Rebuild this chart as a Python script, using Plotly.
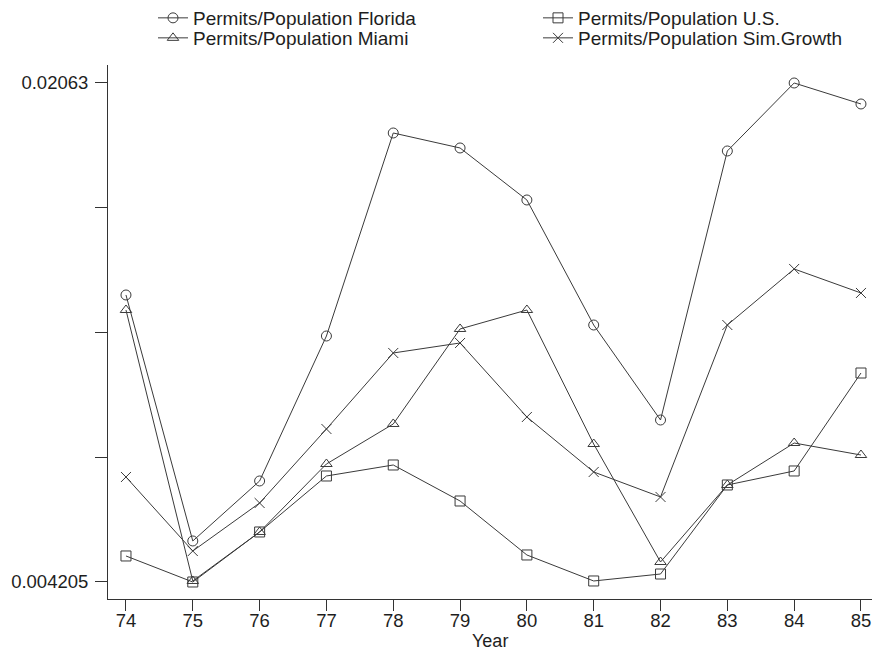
import plotly.graph_objects as go

years = [74, 75, 76, 77, 78, 79, 80, 81, 82, 83, 84, 85]
year_labels = [str(y) for y in years]

florida = [0.013652, 0.005555, 0.007530, 0.012302, 0.018984, 0.018491,
           0.016779, 0.012664, 0.009537, 0.018392, 0.020630, 0.019939]
miami = [0.013158, 0.004238, 0.005851, 0.008089, 0.009406, 0.012533,
         0.013158, 0.008747, 0.004863, 0.007398, 0.008780, 0.008385]
us = [0.005061, 0.004205, 0.005851, 0.007694, 0.008056, 0.006871,
      0.005094, 0.004238, 0.004468, 0.007398, 0.007859, 0.011084]
sim_growth = [0.007661, 0.005225, 0.006805, 0.009241, 0.011743, 0.012072,
              0.009636, 0.007826, 0.007003, 0.012664, 0.014508, 0.013718]

y_min, y_max = 0.004205, 0.02063
y_tickvals = [y_min + i * (y_max - y_min) / 4 for i in range(5)]
y_ticktext = ["0.004205", "", "", "", "0.02063"]

series = [
    ("Permits/Population Florida", florida, "circle-open", "legend"),
    ("Permits/Population U.S.", us, "square-open", "legend2"),
    ("Permits/Population Miami", miami, "triangle-up-open", "legend3"),
    ("Permits/Population Sim.Growth", sim_growth, "x-thin-open", "legend4"),
]

line_color = "#3a3a3a"
text_color = "#1e1e1e"
fig = go.Figure()
for name, vals, sym, leg in series:
    fig.add_trace(go.Scatter(
        x=years, y=vals, name=name, mode="lines+markers", legend=leg,
        line=dict(color=line_color, width=1),
        marker=dict(symbol=sym, size=10, color=line_color,
                    line=dict(color=line_color, width=1)),
    ))

W, H = 872, 651
L, R, T, B = 108, 0, 65, 651 - 599
pw, ph = W - L - R, H - T - B

def px_x(p):
    return (p - L) / pw

def px_y(p):
    return (H - B - p) / ph

legend_common = dict(orientation="v", xanchor="left", yanchor="top",
                     font=dict(size=19, color=text_color), tracegroupgap=0,
                     bgcolor="rgba(0,0,0,0)", itemwidth=30)

col1_text, col2_text = 193, 578
row1_c, row2_c = 18, 38
fig.update_layout(
    width=W, height=H,
    margin=dict(l=L, r=R, t=T, b=B, autoexpand=False),
    paper_bgcolor="white", plot_bgcolor="white",
    font=dict(family="Liberation Sans, Arial, sans-serif", size=18.5, color=text_color),
    legend=dict(x=px_x(col1_text - 48 + 8), y=px_y(row1_c - 19), **legend_common),
    legend2=dict(x=px_x(col2_text - 48 + 8), y=px_y(row1_c - 19), **legend_common),
    legend3=dict(x=px_x(col1_text - 48 + 8), y=px_y(row2_c - 19), **legend_common),
    legend4=dict(x=px_x(col2_text - 48 + 8), y=px_y(row2_c - 19), **legend_common),
    showlegend=True,
    hovermode=False,
    annotations=[dict(text="Year", x=0.5, y=0, xref="paper", yref="paper",
                      xanchor="center", yanchor="top", yshift=-30,
                      showarrow=False, font=dict(size=18, color=text_color))],
)
fig.update_xaxes(
    range=[73.731, 85.165], tickvals=years, ticktext=year_labels,
    showgrid=False, zeroline=False, showline=True, linecolor="#333", linewidth=1,
    ticks="outside", ticklen=11, tickcolor="#333", automargin=False,
    ticklabelstandoff=-6,
)
fig.update_yaxes(
    range=[0.003645, 0.021222], tickvals=y_tickvals, ticktext=y_ticktext,
    showgrid=False, zeroline=False, showline=True, linecolor="#333", linewidth=1,
    ticks="outside", ticklen=12, tickcolor="#333", automargin=False,
    ticklabelstandoff=3,
)

fig.write_html(
    "out.html",
    config={"displayModeBar": False, "staticPlot": True},
    post_script="document.body.style.margin='0';document.body.style.overflow='hidden';",
)
